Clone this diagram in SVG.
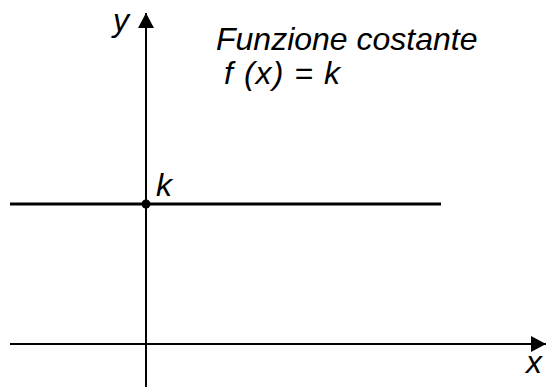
<svg xmlns="http://www.w3.org/2000/svg" width="547" height="387" viewBox="0 0 547 387">
<style>
.t{font-family:"Liberation Sans",Arial,sans-serif;font-style:italic;font-size:32px;fill:#000}
.ax{stroke:#000;stroke-width:2;fill:none}
</style>
<defs>
<marker id="ah" markerWidth="16" markerHeight="16" refX="15" refY="8" orient="auto" markerUnits="userSpaceOnUse">
<path d="M0,0 L15,8 L0,16 Z" fill="#000"/>
</marker>
</defs>
<rect width="547" height="387" fill="#fff"/>
<g id="connectors">
<line class="ax" x1="146" y1="387" x2="146" y2="13" marker-end="url(#ah)"/>
<line class="ax" x1="10" y1="344" x2="546" y2="344" marker-end="url(#ah)"/>
</g>
<g id="line-k">
<line x1="10" y1="204" x2="441" y2="204" stroke="#000" stroke-width="3"/>
<circle cx="146" cy="204" r="4.5" fill="#000"/>
</g>
<g id="labels">
<text class="t" x="113" y="31">y</text>
<text class="t" x="526" y="373">x</text>
<text class="t" x="156" y="196">k</text>
<text class="t" x="216" y="50">Funzione costante</text>
<text class="t" x="224" y="84" textLength="116" lengthAdjust="spacing">f (x) = k</text>
</g>
</svg>
